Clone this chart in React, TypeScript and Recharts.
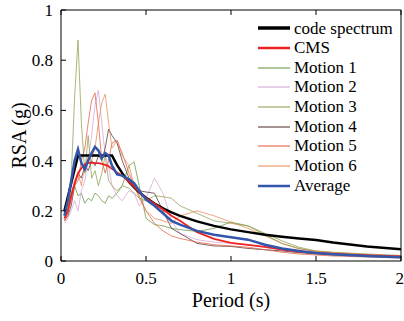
import { Line, LineChart, XAxis, YAxis } from "recharts";

const serif = "Liberation Serif, Times New Roman, DejaVu Serif, serif";

const periods = [
  0.02, 0.04, 0.06, 0.08, 0.1, 0.12, 0.14, 0.16, 0.18, 0.2, 0.22, 0.24, 0.26, 0.28, 0.3, 0.33, 0.36, 0.4,
  0.43, 0.46, 0.5, 0.55, 0.6, 0.65, 0.7, 0.8, 0.9, 1.0, 1.1, 1.2, 1.3, 1.4, 1.5, 1.6, 1.8, 2.0
];

const codeSpectrum = [
  0.2, 0.255, 0.31, 0.365, 0.42, 0.42, 0.42, 0.42, 0.42, 0.42, 0.42, 0.42, 0.42, 0.42, 0.42, 0.382, 0.35, 0.315,
  0.293, 0.274, 0.252, 0.229, 0.21, 0.194, 0.18, 0.158, 0.14, 0.126, 0.115, 0.105, 0.097, 0.09, 0.084, 0.074, 0.058, 0.047
];

const cms = [
  0.17, 0.2, 0.26, 0.31, 0.35, 0.37, 0.385, 0.39, 0.392, 0.39, 0.39, 0.387, 0.383, 0.377, 0.367, 0.353, 0.34, 0.315,
  0.295, 0.275, 0.25, 0.228, 0.205, 0.18, 0.16, 0.115, 0.088, 0.072, 0.064, 0.056, 0.045, 0.037, 0.032, 0.028, 0.022, 0.018
];

const motion1 = [
  0.17, 0.2, 0.28, 0.3, 0.26, 0.27, 0.23, 0.25, 0.24, 0.27, 0.26, 0.24, 0.23, 0.26, 0.25, 0.27, 0.3, 0.38,
  0.395, 0.3, 0.17, 0.145, 0.14, 0.13, 0.125, 0.118, 0.13, 0.155, 0.14, 0.105, 0.07, 0.05, 0.038, 0.032, 0.025, 0.02
];

const motion2 = [
  0.15, 0.17, 0.2, 0.24, 0.2, 0.28, 0.32, 0.4, 0.5, 0.62, 0.68, 0.55, 0.42, 0.38, 0.3, 0.26, 0.24, 0.28,
  0.27, 0.22, 0.25, 0.33, 0.27, 0.16, 0.11, 0.085, 0.075, 0.07, 0.065, 0.055, 0.045, 0.035, 0.03, 0.025, 0.02, 0.016
];

const motion3 = [
  0.17, 0.19, 0.33, 0.65, 0.88, 0.55, 0.35, 0.5, 0.33, 0.36, 0.3, 0.35, 0.42, 0.32, 0.3, 0.28, 0.3, 0.29,
  0.27, 0.25, 0.24, 0.26, 0.256, 0.25, 0.22, 0.19, 0.16, 0.15, 0.14, 0.11, 0.08, 0.055, 0.04, 0.035, 0.028, 0.022
];

const motion4 = [
  0.16, 0.18, 0.22, 0.3, 0.35, 0.33, 0.38, 0.36, 0.4, 0.38, 0.42, 0.4, 0.45, 0.525, 0.5, 0.47, 0.4, 0.33,
  0.3, 0.28, 0.275, 0.27, 0.2, 0.13, 0.11, 0.07, 0.06, 0.058, 0.05, 0.045, 0.04, 0.033, 0.028, 0.024, 0.018, 0.014
];

const motion5 = [
  0.16, 0.19, 0.24, 0.3, 0.32, 0.4, 0.45, 0.55, 0.64, 0.67, 0.55, 0.4, 0.35, 0.4, 0.47, 0.48, 0.43, 0.35,
  0.3, 0.26, 0.2, 0.15, 0.12, 0.1, 0.09, 0.075, 0.065, 0.06, 0.055, 0.045, 0.035, 0.028, 0.024, 0.02, 0.016, 0.012
];

const motion6 = [
  0.17, 0.2, 0.25, 0.32, 0.35, 0.3, 0.38, 0.42, 0.4, 0.45, 0.55, 0.63, 0.665, 0.55, 0.45, 0.48, 0.42, 0.38,
  0.3, 0.25, 0.2, 0.17, 0.16, 0.15, 0.18, 0.2, 0.18, 0.155, 0.13, 0.1, 0.07, 0.048, 0.04, 0.034, 0.026, 0.02
];

const average = [
  0.18, 0.24, 0.32, 0.4, 0.445, 0.39, 0.365, 0.4, 0.43, 0.455, 0.44, 0.41, 0.43, 0.42, 0.38, 0.345, 0.34, 0.325,
  0.31, 0.28, 0.245, 0.22, 0.19, 0.16, 0.145, 0.12, 0.105, 0.095, 0.085, 0.065, 0.05, 0.04, 0.032, 0.027, 0.02, 0.015
];

const xTicks = [0, 0.5, 1, 1.5, 2];
const yTicks = [0, 0.2, 0.4, 0.6, 0.8, 1];

// legend order, colours and widths
const series = [
  { key: "code", name: "code spectrum", color: "#000000", width: 2.5, legendWidth: 3.5 },
  { key: "cms", name: "CMS", color: "#ee2222", width: 1.8, legendWidth: 2.5 },
  { key: "m1", name: "Motion 1", color: "#5f8f35", width: 0.9, legendWidth: 1 },
  { key: "m2", name: "Motion 2", color: "#d4a0d4", width: 0.9, legendWidth: 1 },
  { key: "m3", name: "Motion 3", color: "#8a9a45", width: 0.9, legendWidth: 1 },
  { key: "m4", name: "Motion 4", color: "#4a2a2a", width: 0.9, legendWidth: 1 },
  { key: "m5", name: "Motion 5", color: "#e05535", width: 0.9, legendWidth: 1 },
  { key: "m6", name: "Motion 6", color: "#e8834f", width: 0.9, legendWidth: 1 },
  { key: "avg", name: "Average", color: "#3355aa", width: 2.5, legendWidth: 2.5 }
];

const data = periods.map((T, i) => ({
  T,
  code: codeSpectrum[i],
  cms: cms[i],
  m1: motion1[i],
  m2: motion2[i],
  m3: motion3[i],
  m4: motion4[i],
  m5: motion5[i],
  m6: motion6[i],
  avg: average[i]
}));

const drawOrder = ["m1", "m2", "m3", "m4", "m5", "m6", "code", "cms", "avg"];

function LegendBox() {
  return (
    <div
      style={{
        position: "absolute",
        left: 256,
        top: 18.5,
        fontFamily: serif,
        fontSize: 17,
        lineHeight: "19.67px",
        color: "#000"
      }}
    >
      {series.map((s) => (
        <div key={s.key} style={{ display: "flex", alignItems: "center", height: 19.67, whiteSpace: "nowrap" }}>
          <svg width={34} height={6} style={{ marginLeft: 2, marginRight: 2 }}>
            <line x1={0} x2={32} y1={3} y2={3} stroke={s.color} strokeWidth={s.legendWidth} />
          </svg>
          <span>{s.name}</span>
        </div>
      ))}
    </div>
  );
}

const tickStyle = { fill: "#000", fontSize: 17, fontFamily: serif };

export default function App() {
  return (
    <div style={{ position: "absolute", left: 0, top: 0, width: 404, height: 321, background: "#fff", fontFamily: serif }}>
      <LineChart width={404} height={321} data={data} margin={{ top: 9, right: 2, left: 16, bottom: 15 }} style={{ fontFamily: serif }}>
        <XAxis
          dataKey="T"
          type="number"
          domain={[0, 2]}
          ticks={xTicks}
          allowDataOverflow
          height={45}
          tickSize={-5}
          tickMargin={16}
          tick={tickStyle}
          stroke="#000"
          label={{
            content: (p: any) => (
              <text
                x={p.viewBox.x + p.viewBox.width / 2}
                y={p.viewBox.y + 46}
                textAnchor="middle"
                style={{ fontFamily: serif, fontSize: 20 }}
                fill="#000"
              >
                Period (s)
              </text>
            )
          }}
        />
        <XAxis
          xAxisId="top"
          orientation="top"
          dataKey="T"
          type="number"
          domain={[0, 2]}
          ticks={xTicks}
          height={1}
          tickSize={-5}
          tick={() => <g />}
          stroke="#000"
        />
        <YAxis
          domain={[0, 1]}
          ticks={yTicks}
          allowDataOverflow
          width={45}
          tickSize={-5}
          tickMargin={13}
          tick={tickStyle}
          stroke="#000"
          label={{
            content: (p: any) => {
              const cx = p.viewBox.x + 3;
              const cy = p.viewBox.y + p.viewBox.height / 2;
              return (
                <text
                  x={cx}
                  y={cy}
                  transform={`rotate(-90 ${cx} ${cy})`}
                  textAnchor="middle"
                  dominantBaseline="central"
                  style={{ fontFamily: serif, fontSize: 20 }}
                  fill="#000"
                >
                  RSA (g)
                </text>
              );
            }
          }}
        />
        <YAxis
          yAxisId="right"
          orientation="right"
          domain={[0, 1]}
          ticks={yTicks}
          width={1}
          tickSize={-5}
          tick={() => <g />}
          stroke="#000"
        />
        {drawOrder.map((k) => {
          const s = series.find((x) => x.key === k)!;
          return (
            <Line
              key={k}
              dataKey={k}
              name={s.name}
              type="linear"
              stroke={s.color}
              strokeWidth={s.width}
              strokeOpacity={s.width < 1 ? 0.8 : 1}
              dot={false}
              isAnimationActive={false}
            />
          );
        })}
      </LineChart>
      <LegendBox />
    </div>
  );
}
